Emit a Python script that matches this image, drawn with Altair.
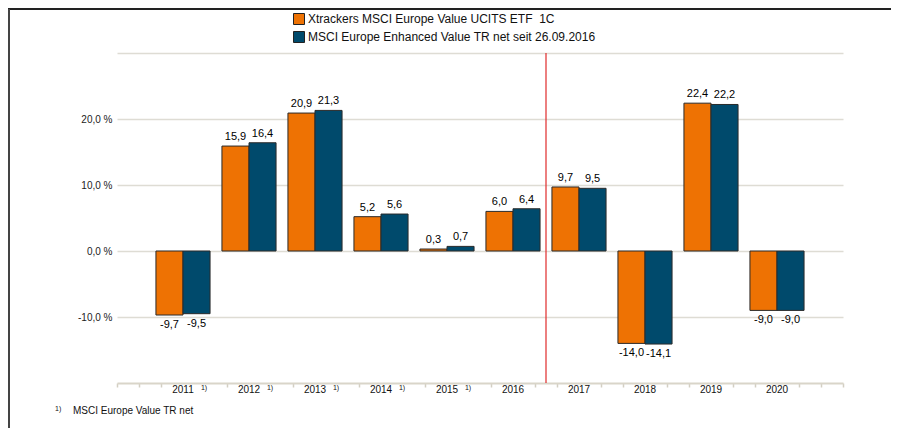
import altair as alt
import pandas as pd

# ---- data -------------------------------------------------------------
years = [2011, 2012, 2013, 2014, 2015, 2016, 2017, 2018, 2019, 2020]
etf_values = [-9.7, 15.9, 20.9, 5.2, 0.3, 6.0, 9.7, -14.0, 22.4, -9.0]
index_values = [-9.5, 16.4, 21.3, 5.6, 0.7, 6.4, 9.5, -14.1, 22.2, -9.0]
footnote_years = [2011, 2012, 2013, 2014, 2015]
series_names = [
    "Xtrackers MSCI Europe Value UCITS ETF\u00a0 1C",
    "MSCI Europe Enhanced Value TR net seit 26.09.2016",
]
series_colors = ["#EE7203", "#004A6C"]
y_ticks = [-10, 0, 10, 20, 30]
index_switch = [2016.5]
footnote_mark = "1)"
footnote_text = "MSCI Europe Value TR net"

FONT = "Liberation Sans"
W, H = 726, 330
BAR_W = 0.41

rows = []
for y, a, b in zip(years, etf_values, index_values):
    rows.append(dict(year=y, series=series_names[0], slot=0, value=a))
    rows.append(dict(year=y, series=series_names[1], slot=1, value=b))
df = pd.DataFrame(rows)

year_df = pd.DataFrame({"year": years})
foot_df = pd.DataFrame({"year": footnote_years})
switch_df = pd.DataFrame({"x": index_switch})
one = pd.DataFrame({"a": [0]})

tick_vals = [2010, 2021]
for k in range(2010, 2021):
    if k not in footnote_years:
        tick_vals.append(k + 1 / 3)
    tick_vals.append(k + 2 / 3)

xscale = alt.Scale(domain=[2010, 2021], nice=False, zero=False)
yscale = alt.Scale(domain=[-20, 30], nice=False, zero=False)

base = alt.Chart(df).transform_calculate(
    x0=f"datum.year + (datum.slot - 1) * {BAR_W}",
    x1=f"datum.year + datum.slot * {BAR_W}",
    xm=f"datum.year + (datum.slot - 0.5) * {BAR_W}",
    label="(datum.value < 0 ? '-' : '') + replace(format(abs(datum.value), '.1f'), '.', ',')",
)

ylabel_expr = (
    "datum.value == 30 ? '' : (datum.value < 0 ? '-' : '') + "
    "replace(format(abs(datum.value), '.1f'), '.', ',') + ' %'"
)

bars = base.mark_bar(stroke="#2a2a2a", strokeWidth=1).encode(
    x=alt.X(
        "x0:Q",
        scale=xscale,
        axis=alt.Axis(
            values=tick_vals, labels=False, grid=False, tickSize=4,
            tickColor="#d3cfc3", tickWidth=1.5, domainColor="#d9d5c9",
            domainWidth=2, title=None,
        ),
    ),
    x2="x1:Q",
    y=alt.Y(
        "value:Q",
        scale=yscale,
        axis=alt.Axis(
            values=y_ticks, labelExpr=ylabel_expr, domain=False, ticks=False,
            grid=True, gridColor="#dedcd4", gridWidth=1.5, labelPadding=5,
            labelFont=FONT, labelFontSize=10, labelColor="#222222", title=None,
        ),
    ),
    y2=alt.datum(0),
    color=alt.Color(
        "series:N",
        scale=alt.Scale(domain=series_names, range=series_colors),
        legend=alt.Legend(
            title=None, orient="none", legendX=176, legendY=-40,
            direction="vertical", symbolType="square", symbolSize=121,
            symbolStrokeColor="#222222", symbolStrokeWidth=1,
            labelFont=FONT, labelFontSize=12, labelColor="#111111",
            labelLimit=0, rowPadding=2, padding=0, labelOffset=3,
        ),
    ),
)

pos_labels = base.transform_filter("datum.value >= 0").mark_text(
    baseline="alphabetic", dy=-6, font=FONT, fontSize=11, color="#000000"
).encode(x="xm:Q", y="value:Q", text="label:N")

neg_labels = base.transform_filter("datum.value < 0").mark_text(
    baseline="alphabetic", dy=13, font=FONT, fontSize=11, color="#000000"
).encode(x="xm:Q", y="value:Q", text="label:N")

year_labels = alt.Chart(year_df).mark_text(
    baseline="alphabetic", font=FONT, fontSize=10, color="#111111"
).encode(x="year:Q", y=alt.value(340), text=alt.Text("year:N"))

year_sup = alt.Chart(foot_df).mark_text(
    baseline="alphabetic", dx=21, font=FONT, fontSize=7, color="#111111"
).encode(x="year:Q", y=alt.value(337), text=alt.value(footnote_mark))

switch_rule = alt.Chart(switch_df).mark_rule(color="#e02b2b", strokeWidth=1.2).encode(
    x="x:Q", y=alt.value(0), y2=alt.value(H)
)

foot_mark = alt.Chart(one).mark_text(
    align="left", baseline="alphabetic", font=FONT, fontSize=7, color="#111111"
).encode(x=alt.value(-62), y=alt.value(358), text=alt.value(footnote_mark))

foot_label = alt.Chart(one).mark_text(
    align="left", baseline="alphabetic", font=FONT, fontSize=10, color="#111111"
).encode(x=alt.value(-44), y=alt.value(361), text=alt.value(footnote_text))

frame_top = alt.Chart(one).mark_rule(color="#222222", strokeWidth=2).encode(
    x=alt.value(-109), x2=alt.value(774), y=alt.value(-44)
)
frame_left = alt.Chart(one).mark_rule(color="#444444", strokeWidth=2).encode(
    x=alt.value(-108), y=alt.value(-44), y2=alt.value(375)
)

chart = alt.layer(
    bars, switch_rule, pos_labels, neg_labels, year_labels, year_sup,
    foot_mark, foot_label, frame_top, frame_left,
).properties(
    width=W, height=H,
    autosize=alt.AutoSizeParams(type="none"),
    padding={"left": 109, "top": 45, "right": 48, "bottom": 45},
).configure_view(strokeWidth=0)

chart.save("out.html", embed_options={"renderer": "svg", "actions": False})
